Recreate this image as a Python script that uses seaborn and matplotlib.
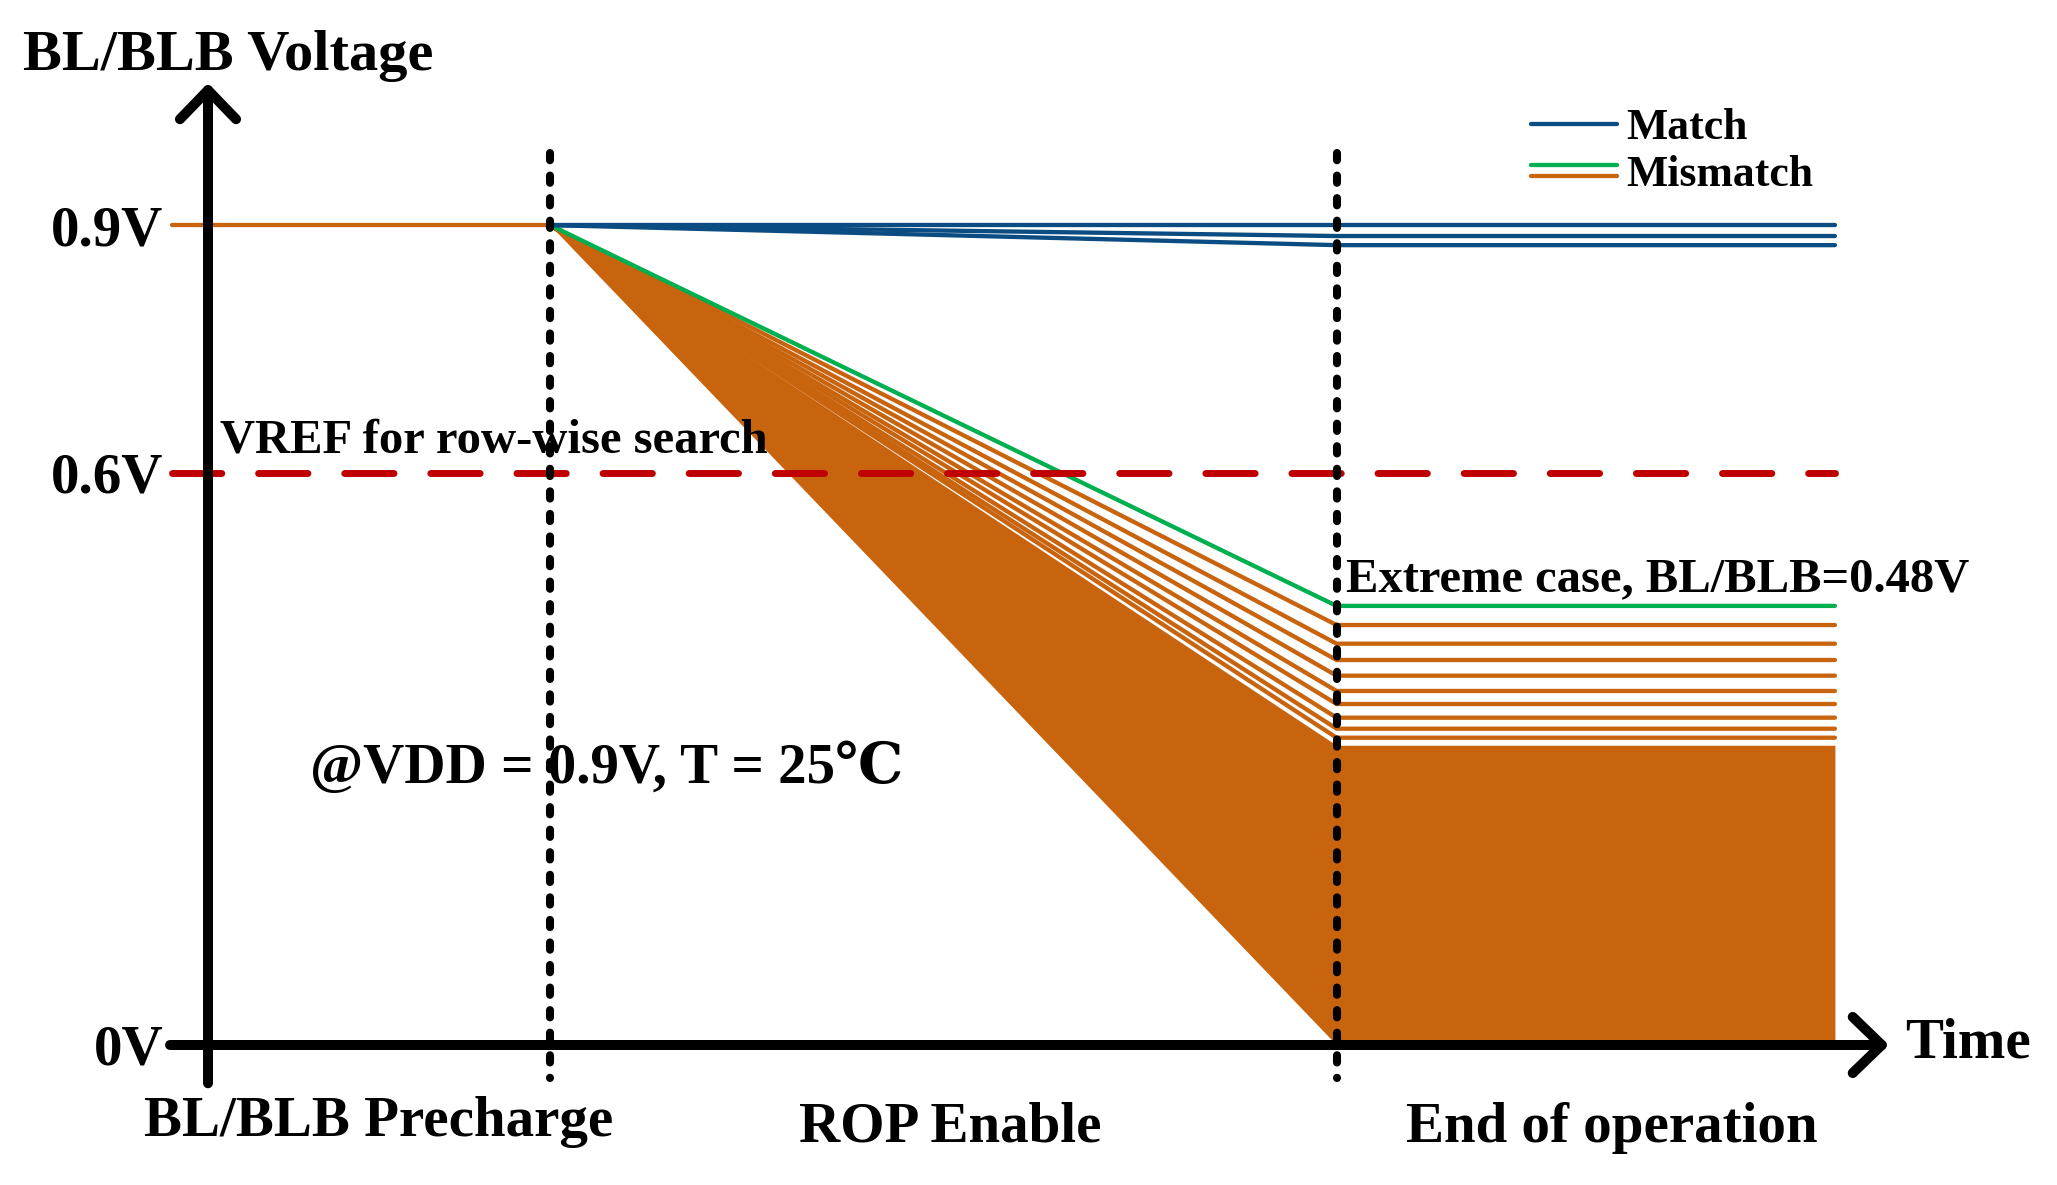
import numpy as np
import pandas as pd
import matplotlib
matplotlib.use('Agg')
import matplotlib.pyplot as plt
import seaborn as sns
from matplotlib.lines import Line2D
from matplotlib.legend_handler import HandlerBase

# Data (time in arbitrary units, voltage in V)
phase_times = [1.0, 3.3, 4.757]     # precharge done, end of operation, end of trace
precharge_start = -0.105
v_precharge = 0.9
match_final = [0.900, 0.888, 0.878]
mismatch_final = [0.461, 0.4405, 0.4226, 0.4054, 0.3886, 0.3743, 0.3593, 0.3472, 0.3373]
extreme_final = 0.482
dense_band = [0.0, 0.329]           # mismatch traces packed solid between these levels
vref_level = 0.628
ytick_values = [0.0, 0.628, 0.9]
ytick_labels = ['0V', '0.6V', '0.9V']
phase_labels = ['BL/BLB Precharge', 'ROP Enable', 'End of operation']
phase_label_t = [0.5, 2.17, 4.105]
phase_label_v = [-0.100, -0.106, -0.106]

BLUE = '#0B4C82'
GREEN = '#00B050'
ORANGE = '#C9640E'
RED = '#C00000'
LW = 3.1

sns.set_theme(style='white')
plt.rcParams['font.family'] = ['Liberation Serif', 'DejaVu Serif', 'Noto Sans CJK SC']
plt.rcParams['font.weight'] = 'bold'
plt.rcParams['text.color'] = 'black'
plt.rcParams['ytick.color'] = 'black'
plt.rcParams['xtick.color'] = 'black'

# long table of traces
rows = []
rows += [('pre', t, v_precharge) for t in [precharge_start, phase_times[0]]]
for i, v in enumerate(mismatch_final):
    rows += [(f'mis{i}', t, y) for t, y in zip(phase_times, [v_precharge, v, v])]
rows += [('extreme', t, y) for t, y in zip(phase_times, [v_precharge, extreme_final, extreme_final])]
for i, v in enumerate(match_final):
    rows += [(f'match{i}', t, y) for t, y in zip(phase_times, [v_precharge, v, v])]
df = pd.DataFrame(rows, columns=['curve', 't', 'v'])

order = list(dict.fromkeys(df['curve']))
palette = {}
for c in order:
    if c.startswith('match'):
        palette[c] = BLUE
    elif c == 'extreme':
        palette[c] = GREEN
    else:
        palette[c] = ORANGE

fig = plt.figure(figsize=(20.57, 11.85), dpi=100)
ax = fig.add_axes([0, 0, 1, 1])
ax.set_xlim(-0.6082, 5.4064)
ax.set_ylim(-0.15368, 1.14709)

# solid block of mismatch traces
ax.fill_between(phase_times, [v_precharge, dense_band[0], dense_band[0]],
                [v_precharge, dense_band[1], dense_band[1]], color=ORANGE, lw=0, zorder=1)

sns.lineplot(data=df, x='t', y='v', hue='curve', hue_order=order, palette=palette,
             estimator=None, sort=False, legend=False, lw=LW, ax=ax, zorder=2)
ax.set_xlabel('')
ax.set_ylabel('')

# VREF line
ax.plot([precharge_start, phase_times[2]], [vref_level, vref_level], color=RED, lw=5,
        dashes=(7.1, 5.3), dash_capstyle='round', zorder=3)

# phase boundaries
for t in phase_times[:2]:
    ax.plot([t, t], [0.979, -0.036], color='black', lw=5.8, dashes=(0.9, 1.9),
            dash_capstyle='round', zorder=4)

# axes with open arrowheads
arrow_kw = dict(arrowstyle='->,head_length=2.09,head_width=2.02', lw=7.2, color='black',
                shrinkA=0, shrinkB=0, mutation_scale=10, capstyle='round', joinstyle='round')
ax.annotate('', xy=(0, 1.056), xytext=(0, -0.042), arrowprops=arrow_kw, zorder=5)
ax.annotate('', xy=(4.915, 0), xytext=(-0.111, 0), arrowprops=arrow_kw, zorder=5)

for s in ax.spines.values():
    s.set_visible(False)
ax.spines['left'].set_position(('data', precharge_start))
ax.set_xticks([])
ax.set_yticks(ytick_values, ytick_labels)
ax.tick_params(axis='y', length=0, pad=6.5, labelsize=41)
ax.grid(False)

big = 41
ax.text(-0.541, 1.070, 'BL/BLB Voltage', fontsize=42, ha='left', va='baseline')
ax.text(4.962, -0.014, 'Time', fontsize=big, ha='left', va='baseline')
for lab, t, v in zip(phase_labels, phase_label_t, phase_label_v):
    ax.text(t, v, lab, fontsize=big, ha='center', va='baseline')
ax.text(0.035, 0.650, 'VREF for row-wise search', fontsize=35, ha='left', va='baseline', zorder=6)
ax.text(3.327, 0.498, 'Extreme case, BL/BLB=0.48V', fontsize=35, ha='left', va='baseline', zorder=6)
ax.text(0.298, 0.288, '@VDD = 0.9V, T = 25\u2103', fontsize=big, ha='left', va='baseline', zorder=6)


class TwoLineHandler(HandlerBase):
    def create_artists(self, legend, orig_handle, xdescent, ydescent, width, height,
                       fontsize, trans):
        mid = (height - ydescent) / 2.0
        off = 3.8
        out = []
        for col, dy in zip(orig_handle, [off, -off]):
            ln = Line2D([-xdescent, width - xdescent], [mid + dy, mid + dy], color=col,
                        lw=LW, solid_capstyle='round', transform=trans)
            out.append(ln)
        return out


match_handle = Line2D([], [], color=BLUE, lw=LW, solid_capstyle='round')
mismatch_handle = (GREEN, ORANGE)
ax.legend([match_handle, mismatch_handle], ['Match', 'Mismatch'],
          handler_map={tuple: TwoLineHandler()}, loc='upper left',
          bbox_to_anchor=(1531 / 2057, 1 - 108 / 1185), bbox_transform=fig.transFigure,
          frameon=False, fontsize=31.5, handlelength=1.97, handletextpad=0.2,
          labelspacing=0.15, borderpad=0, borderaxespad=0)

fig.savefig('out.png', dpi=100, facecolor='white')
